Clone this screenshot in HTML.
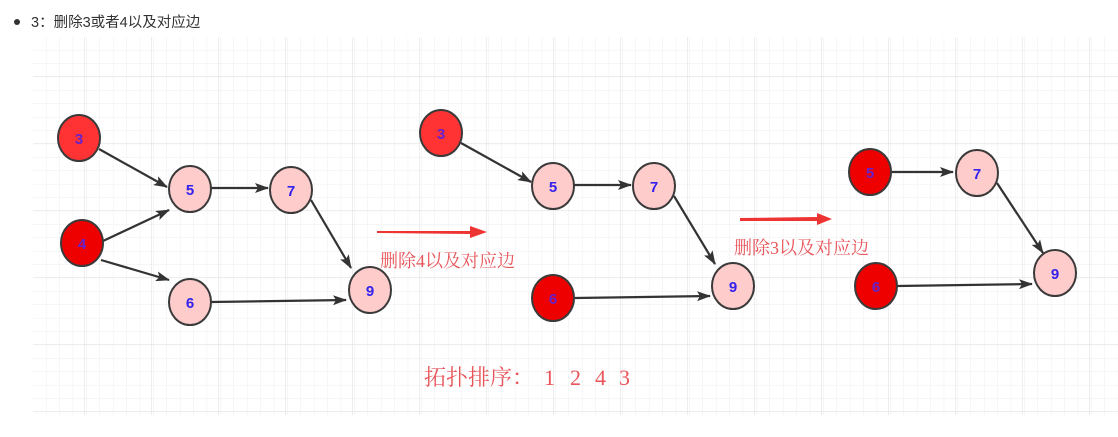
<!DOCTYPE html>
<html><head><meta charset="utf-8"><style>
html,body{margin:0;padding:0;background:#fff;width:1118px;height:437px;overflow:hidden}
</style></head><body>
<svg width="1118" height="437" xmlns="http://www.w3.org/2000/svg">
<defs>
<pattern id="minor" x="33" y="37" width="13.4" height="13.4" patternUnits="userSpaceOnUse">
<path d="M13.4 0V13.4M0 13.4H13.4" stroke="#eeeeee" stroke-width="1" fill="none"/>
</pattern>
<pattern id="major" x="18" y="10" width="67" height="67" patternUnits="userSpaceOnUse">
<path d="M67 0V67M0 67H67" stroke="#dedede" stroke-width="1" fill="none"/>
</pattern>
<marker id="ar" markerWidth="14" markerHeight="10" refX="13" refY="5" orient="auto" markerUnits="userSpaceOnUse">
<path d="M0,0 L14,5 L0,10 L3,5 Z" fill="#333"/>
</marker>
</defs>
<rect x="33" y="37" width="1085" height="378" fill="url(#minor)"/>
<rect x="33" y="37" width="1085" height="378" fill="url(#major)"/>
<circle cx="17" cy="22" r="3" fill="#333"/>
<text x="31" y="27" font-family="Liberation Sans, Noto Sans CJK SC, sans-serif" font-size="14.5" fill="#333">3：删除3或者4以及对应边</text>
<g stroke="#333" stroke-width="2.2" fill="none" marker-end="url(#ar)">
<line x1="99" y1="149" x2="167" y2="187"/>
<line x1="103" y1="241" x2="169" y2="210"/>
<line x1="101" y1="260" x2="169" y2="280"/>
<line x1="211" y1="188" x2="268" y2="188"/>
<line x1="311" y1="200" x2="351" y2="268"/>
<line x1="211" y1="302" x2="346" y2="300"/>
<line x1="461" y1="143" x2="531" y2="182"/>
<line x1="574" y1="185" x2="631" y2="185"/>
<line x1="674" y1="196" x2="715" y2="264"/>
<line x1="575" y1="298" x2="710" y2="296"/>
<line x1="892" y1="172" x2="953" y2="172"/>
<line x1="997" y1="183" x2="1043" y2="253"/>
<line x1="897" y1="286" x2="1032" y2="284"/>
</g>
<g stroke="#3a3a3a" stroke-width="2">
<ellipse cx="79" cy="138" rx="21" ry="23" fill="#ff3333"/>
<ellipse cx="82" cy="243" rx="21" ry="23" fill="#ee0000"/>
<ellipse cx="190" cy="189" rx="21" ry="23" fill="#ffcccc"/>
<ellipse cx="291" cy="190" rx="21" ry="23" fill="#ffcccc"/>
<ellipse cx="190" cy="302" rx="21" ry="23" fill="#ffcccc"/>
<ellipse cx="370" cy="290" rx="21" ry="23" fill="#ffcccc"/>
<ellipse cx="441" cy="133" rx="21" ry="23" fill="#ff3333"/>
<ellipse cx="553" cy="186" rx="21" ry="23" fill="#ffcccc"/>
<ellipse cx="654" cy="186" rx="21" ry="23" fill="#ffcccc"/>
<ellipse cx="553" cy="298" rx="21" ry="23" fill="#ee0000"/>
<ellipse cx="733" cy="286" rx="21" ry="23" fill="#ffcccc"/>
<ellipse cx="870" cy="172" rx="21" ry="23" fill="#ee0000"/>
<ellipse cx="977" cy="173" rx="21" ry="23" fill="#ffcccc"/>
<ellipse cx="1055" cy="273" rx="21" ry="23" fill="#ffcccc"/>
<ellipse cx="876" cy="286" rx="21" ry="23" fill="#ee0000"/>
</g>
<g font-family="Liberation Sans, sans-serif" font-size="15" font-weight="bold" fill="#3322ee" text-anchor="middle">
<text x="79" y="144" fill="#6622cc">3</text>
<text x="82" y="249" fill="#6622cc">4</text>
<text x="190" y="195">5</text>
<text x="291" y="196">7</text>
<text x="190" y="308">6</text>
<text x="370" y="296">9</text>
<text x="441" y="139" fill="#6622cc">3</text>
<text x="553" y="192">5</text>
<text x="654" y="192">7</text>
<text x="553" y="304" fill="#6622cc">6</text>
<text x="733" y="292">9</text>
<text x="870" y="178" fill="#6622cc">5</text>
<text x="977" y="179">7</text>
<text x="1055" y="279">9</text>
<text x="876" y="292" fill="#6622cc">6</text>
</g>
<path d="M377 231 L470 231 L470 226 L487 232 L470 238 L470 234 L377 233 Z" fill="#ee3333"/>
<path d="M740 218 L817 217 L817 213 L832 219 L817 225 L817 221 L740 221 Z" fill="#ee3333"/>
<g font-family="Liberation Serif, Noto Serif CJK SC, serif" fill="#e8555a">
<text x="380" y="267" font-size="18">删除4以及对应边</text>
<text x="734" y="254" font-size="18">删除3以及对应边</text>
<text x="424" y="385" font-size="22">拓扑排序：</text>
<text x="544" y="385" font-size="22">1</text>
<text x="570" y="385" font-size="22">2</text>
<text x="595" y="385" font-size="22">4</text>
<text x="619" y="385" font-size="22">3</text>
</g>
</svg>
</body></html>
